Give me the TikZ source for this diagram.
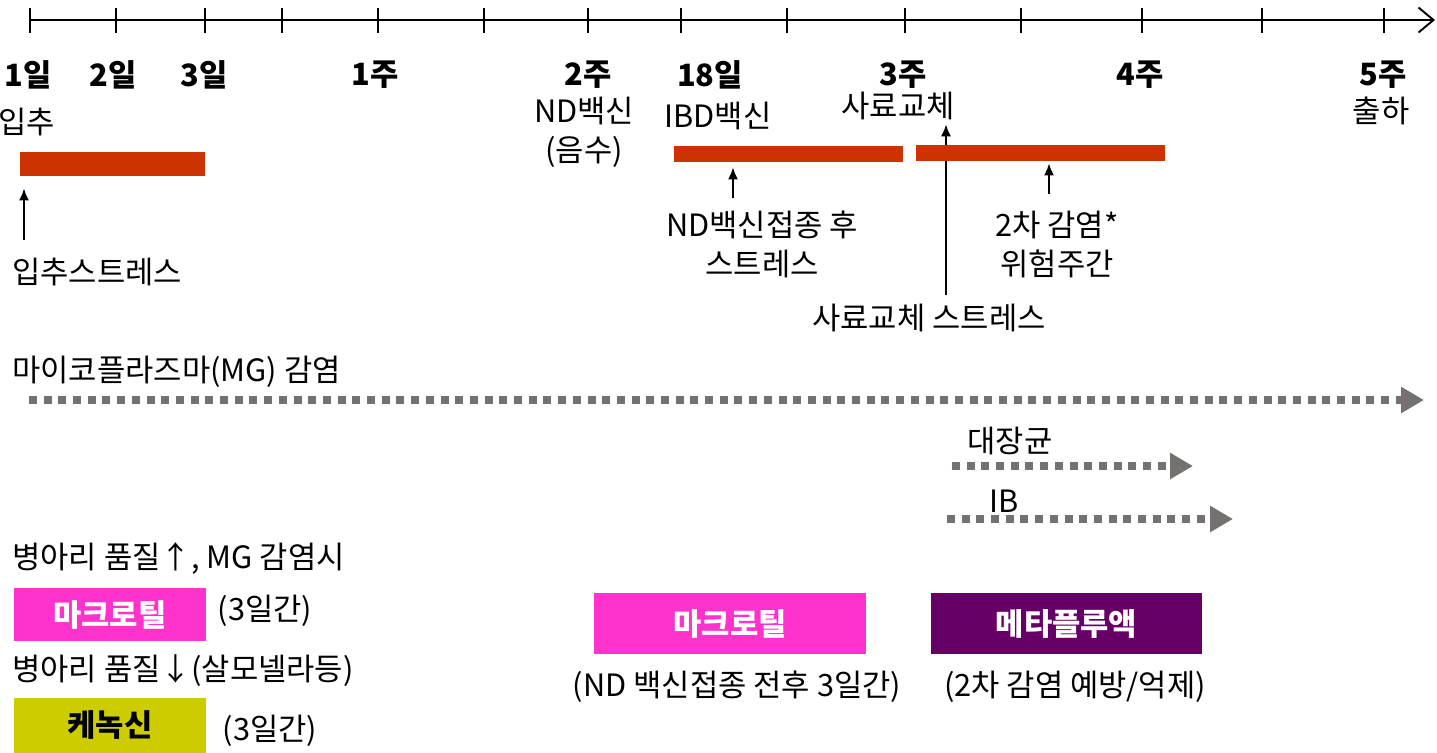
\documentclass[tikz,border=0pt]{standalone}
\usepackage{fontspec}
\setmainfont{Noto Sans CJK KR}
\usetikzlibrary{arrows.meta}
\definecolor{barred}{RGB}{204,51,0}
\definecolor{dotgray}{RGB}{118,113,113}
\definecolor{macro}{RGB}{255,51,204}
\definecolor{kenok}{RGB}{204,204,0}
\definecolor{meta}{RGB}{102,0,102}

\begin{document}
\begin{tikzpicture}[x=0.02cm,y=-0.02cm,font=\fontsize{17.5}{22}\selectfont]
    \tikzstyle{day}=[inner sep=0pt,font=\fontsize{17.5}{22}\selectfont\bfseries]
    \tikzstyle{lbl}=[inner sep=0pt,align=center]
    \tikzstyle{bar}=[fill=barred,inner sep=0pt,minimum height=0.48cm]
    \tikzstyle{up}=[-{Latex[length=0.24cm,width=0.2cm]},line width=1.1pt]
    \tikzstyle{infect}=[dotgray,line width=0.16cm,dash pattern=on 0.16cm off 0.134cm,
                        -{Triangle[length=0.46cm,width=0.5cm]}]
    \tikzstyle{drug}=[inner sep=0pt,text=white,font=\fontsize{17.5}{22}\selectfont\bfseries,
                      minimum width=3.84cm,minimum height=1.06cm]
    \useasboundingbox (0,0) rectangle (1437,752);

    % time axis
    \coordinate (A-s) at (30,20);
    \coordinate (A-e) at (1435,20);
    \draw[line width=1.1pt,-{Straight Barb[length=0.3cm,width=0.5cm]}] (A-s) -- (A-e);
    \foreach \x in {30,116,205,282,378,484,588,681,787,905,1021,1142,1262,1384}
    \draw[line width=1pt] (\x,8) -- (\x,33);

    % day and week labels
    \foreach \x/\t in {28/1일,113/2일,204/3일,375/1주,588/2주,710/18일,903/3주,1140/4주,1383/5주}
    \node[day] (D-\x) at (\x,75) {\t};

    % events under the labels
    \node[lbl] (E-in) at (27,122) {입추};
    \node[lbl] (E-nd) at (584,132.5) {ND백신\\(음수)};
    \node[lbl] (E-ibd) at (718,116) {IBD백신};
    \node[lbl] (E-feed) at (898,106) {사료교체};
    \node[lbl] (E-out) at (1381,111) {출하};

    % stress labels and their arrows
    \node[lbl] (S-in) at (97,272) {입추스트레스};
    \node[lbl] (S-nd) at (762,244.5) {ND백신접종 후\\스트레스};
    \node[lbl] (S-feed) at (929,318) {사료교체 스트레스};
    \node[lbl] (S-risk) at (1057,244.5) {2차 감염*\\위험주간};
    \coordinate (T-in) at (24,240);
    \coordinate (T-nd) at (733,198);
    \coordinate (T-feed) at (946,295);
    \coordinate (T-risk) at (1049,194);
    \draw[up,shorten >=0.08cm] (T-feed) -- (T-feed |- E-feed.south);

    % stress periods
    \node[bar,minimum width=3.7cm] (B-in) at (112.5,164) {};
    \node[bar,minimum width=4.58cm,minimum height=0.32cm] (B-nd) at (788.5,154) {};
    \node[bar,minimum width=4.98cm,minimum height=0.32cm] (B-risk) at (1040.5,153) {};
    \draw[up,shorten >=0.24cm] (T-in) -- (T-in |- B-in.south);
    \draw[up,shorten >=0.1cm] (T-nd) -- (T-nd |- B-nd.south);
    \draw[up,shorten >=0.04cm] (T-risk) -- (T-risk |- B-risk.south);

    % infections
    \node[lbl,anchor=west] (I-mg) at (12,372) {마이코플라즈마(MG) 감염};
    \node[lbl] (I-ec) at (1010,441) {대장균};
    \node[lbl] (I-ib) at (1004,501) {IB};
    \coordinate (M-s) at (29,400);
    \coordinate (M-e) at (1424,400);
    \coordinate (C-s) at (952,466);
    \coordinate (C-e) at (1193,466);
    \coordinate (V-s) at (947,519);
    \coordinate (V-e) at (1233,519);
    \draw[infect] (M-s) -- (M-e);
    \draw[infect] (C-s) -- (C-e);
    \draw[infect] (V-s) -- (V-e);

    % treatments
    \node[lbl,anchor=west] (Q-up) at (12,558) {병아리 품질↑, MG 감염시};
    \node[drug,fill=macro] (R-1) at (110,614.5) {마크로틸};
    \node[lbl] (R-1d) at (265,611) {(3일간)};
    \node[lbl,anchor=west] (Q-down) at (12,671) {병아리 품질↓(살모넬라등)};
    \node[drug,fill=kenok,text=black,minimum height=1.1cm] (R-2) at (110,725) {케녹신};
    \node[lbl] (R-2d) at (270,731) {(3일간)};
    \node[drug,fill=macro,minimum width=5.44cm,minimum height=1.22cm] (R-3) at (730,623.5) {마크로틸};
    \node[lbl] (R-3d) at (737,687) {(ND 백신접종 전후 3일간)};
    \node[drug,fill=meta,minimum width=5.42cm,minimum height=1.22cm] (R-4) at (1066.5,623.5) {메타플루액};
    \node[lbl] (R-4d) at (1075,687) {(2차 감염 예방/억제)};
  \end{tikzpicture}
\end{document}
